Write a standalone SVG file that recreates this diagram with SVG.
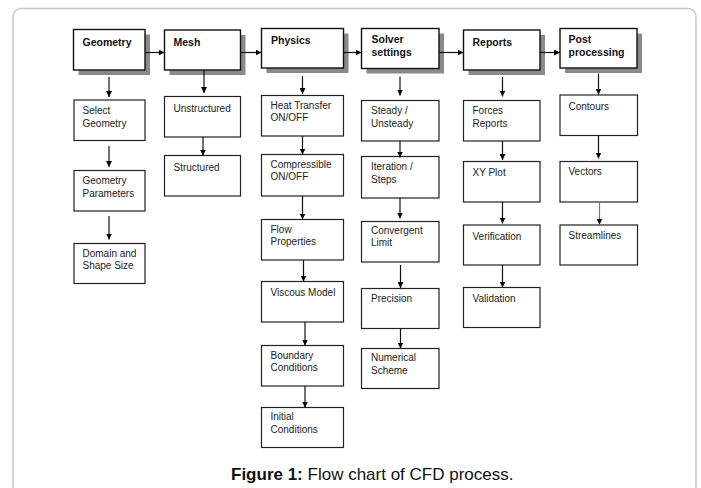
<svg xmlns="http://www.w3.org/2000/svg" width="701" height="488" viewBox="0 0 701 488">
<defs>
<marker id="ah" markerWidth="6" markerHeight="6" refX="6" refY="3" orient="auto" markerUnits="userSpaceOnUse">
<path d="M0,0 L6,3 L0,6 z" fill="#000"/>
</marker>
</defs>
<style>
.frame{fill:#fff;stroke:#c8c8c8;stroke-width:1.5}
.hb{fill:#fff;stroke:#111;stroke-width:1.4}
.sh{fill:#8a8a8a}
.b{fill:#fff;stroke:#222;stroke-width:1.2}
.h{font-family:"Liberation Sans",Arial,sans-serif;font-size:10.5px;font-weight:bold;fill:#111}
.t{font-family:"Liberation Sans",Arial,sans-serif;font-size:10px;fill:#222}
.c line{stroke:#111;stroke-width:1.2;marker-end:url(#ah)}
.cap{font-family:"Liberation Sans",Arial,sans-serif;font-size:17px;fill:#111}
</style>
<rect width="701" height="488" fill="#fff"/>
<rect class="frame" x="13" y="8.5" width="683" height="500" rx="8"/>

<g id="geometry"><rect class="sh" x="78.5" y="34.5" width="71.5" height="40.5"/><rect class="hb" x="73.5" y="29.5" width="71.5" height="40.5"/><text class="h" x="82.5" y="45.5">Geometry</text></g>
<g id="mesh"><rect class="sh" x="169.5" y="35" width="76" height="40"/><rect class="hb" x="164.5" y="30" width="76" height="40"/><text class="h" x="173.5" y="46">Mesh</text></g>
<g id="physics"><rect class="sh" x="266.5" y="33.5" width="82" height="39.5"/><rect class="hb" x="261.5" y="28.5" width="82" height="39.5"/><text class="h" x="271" y="43.5">Physics</text></g>
<g id="solver"><rect class="sh" x="366.5" y="33.5" width="77.5" height="40"/><rect class="hb" x="361.5" y="28.5" width="77.5" height="40"/><text class="h" x="371.5" y="43">Solver</text><text class="h" x="371.5" y="56">settings</text></g>
<g id="reports"><rect class="sh" x="468.5" y="35" width="76.5" height="40"/><rect class="hb" x="463.5" y="30" width="76.5" height="40"/><text class="h" x="472.5" y="46">Reports</text></g>
<g id="post"><rect class="sh" x="565" y="33.5" width="77" height="39.5"/><rect class="hb" x="560" y="28.5" width="77" height="39.5"/><text class="h" x="568.5" y="43">Post</text><text class="h" x="568.5" y="56">processing</text></g>

<g id="select-geometry"><rect class="b" x="74" y="100" width="71" height="40.5"/><text class="t" x="82.5" y="114">Select</text><text class="t" x="82.5" y="126.5">Geometry</text></g>
<g id="geometry-parameters"><rect class="b" x="74" y="170.5" width="71" height="40.5"/><text class="t" x="82.5" y="184">Geometry</text><text class="t" x="82.5" y="196.5">Parameters</text></g>
<g id="domain"><rect class="b" x="74" y="243.5" width="71" height="40"/><text class="t" x="82.5" y="256.5">Domain and</text><text class="t" x="82.5" y="269">Shape Size</text></g>

<g id="unstructured"><rect class="b" x="164.5" y="96.5" width="76" height="40.5"/><text class="t" x="173.5" y="111.5">Unstructured</text></g>
<g id="structured"><rect class="b" x="164.5" y="155.5" width="76" height="40.5"/><text class="t" x="173.5" y="170.5">Structured</text></g>

<g id="heat"><rect class="b" x="261.5" y="95.5" width="82" height="40.5"/><text class="t" x="270.5" y="108.5">Heat Transfer</text><text class="t" x="270.5" y="121">ON/OFF</text></g>
<g id="compressible"><rect class="b" x="261.5" y="154.5" width="82" height="41.5"/><text class="t" x="270.5" y="167.5">Compressible</text><text class="t" x="270.5" y="180">ON/OFF</text></g>
<g id="flow"><rect class="b" x="261.5" y="219.5" width="82" height="40.5"/><text class="t" x="270.5" y="232.5">Flow</text><text class="t" x="270.5" y="245">Properties</text></g>
<g id="viscous"><rect class="b" x="261.5" y="281.5" width="82" height="40.5"/><text class="t" x="270.5" y="295.5">Viscous Model</text></g>
<g id="boundary"><rect class="b" x="261.5" y="345.5" width="82" height="40.5"/><text class="t" x="270.5" y="358.5">Boundary</text><text class="t" x="270.5" y="371">Conditions</text></g>
<g id="initial"><rect class="b" x="261.5" y="407.5" width="82" height="40"/><text class="t" x="270.5" y="420">Initial</text><text class="t" x="270.5" y="432.5">Conditions</text></g>

<g id="steady"><rect class="b" x="361.5" y="100.5" width="77.5" height="40.5"/><text class="t" x="371" y="114">Steady /</text><text class="t" x="371" y="126.5">Unsteady</text></g>
<g id="iteration"><rect class="b" x="361.5" y="156.5" width="77.5" height="41.5"/><text class="t" x="371" y="170">Iteration /</text><text class="t" x="371" y="182.5">Steps</text></g>
<g id="convergent"><rect class="b" x="361.5" y="221.5" width="77.5" height="40.5"/><text class="t" x="371" y="234">Convergent</text><text class="t" x="371" y="246">Limit</text></g>
<g id="precision"><rect class="b" x="361.5" y="288.5" width="77.5" height="40"/><text class="t" x="371" y="301.5">Precision</text></g>
<g id="numerical"><rect class="b" x="361.5" y="348.5" width="77.5" height="40"/><text class="t" x="371" y="361">Numerical</text><text class="t" x="371" y="373.5">Scheme</text></g>

<g id="forces"><rect class="b" x="463.5" y="100.5" width="76.5" height="40.5"/><text class="t" x="472.5" y="114">Forces</text><text class="t" x="472.5" y="126.5">Reports</text></g>
<g id="xyplot"><rect class="b" x="463.5" y="161.5" width="76.5" height="40.5"/><text class="t" x="472.5" y="175.5">XY Plot</text></g>
<g id="verification"><rect class="b" x="463.5" y="225" width="76.5" height="40"/><text class="t" x="472.5" y="239.5">Verification</text></g>
<g id="validation"><rect class="b" x="463.5" y="287.5" width="76.5" height="40"/><text class="t" x="472.5" y="301.5">Validation</text></g>

<g id="contours"><rect class="b" x="560" y="95" width="77.5" height="40.5"/><text class="t" x="568.5" y="109.5">Contours</text></g>
<g id="vectors"><rect class="b" x="560" y="161.5" width="77.5" height="40.5"/><text class="t" x="568.5" y="175">Vectors</text></g>
<g id="streamlines"><rect class="b" x="560" y="225" width="77.5" height="40"/><text class="t" x="568.5" y="238.5">Streamlines</text></g>

<g id="connectors" class="c">
<line x1="145" y1="52.5" x2="164.5" y2="52.5"/>
<line x1="240.5" y1="52.5" x2="261.5" y2="52.5"/>
<line x1="343.5" y1="52.5" x2="361.5" y2="52.5"/>
<line x1="439" y1="52.5" x2="463.5" y2="52.5"/>
<line x1="540" y1="52.5" x2="560" y2="52.5"/>

<line x1="109" y1="77" x2="109" y2="97"/>
<line x1="109" y1="146" x2="109" y2="167"/>
<line x1="109" y1="216" x2="109" y2="239.5"/>

<line x1="204" y1="70" x2="204" y2="93"/>
<line x1="203" y1="137" x2="203" y2="155.5"/>

<line x1="302.5" y1="76" x2="302.5" y2="94"/>
<line x1="302.5" y1="136" x2="302.5" y2="154.5"/>
<line x1="302.5" y1="196" x2="302.5" y2="219.5"/>
<line x1="303.5" y1="260" x2="303.5" y2="281.5"/>
<line x1="305" y1="322" x2="305" y2="345.5"/>
<line x1="305" y1="386" x2="305" y2="407.5"/>

<line x1="400" y1="76.5" x2="400" y2="95.5"/>
<line x1="400" y1="141" x2="400" y2="157.5"/>
<line x1="400" y1="198" x2="400" y2="218.5"/>
<line x1="400.5" y1="265" x2="400.5" y2="288"/>
<line x1="400.5" y1="328.5" x2="400.5" y2="348.5"/>

<line x1="502.5" y1="77" x2="502.5" y2="96.5"/>
<line x1="502.5" y1="141" x2="502.5" y2="160"/>
<line x1="502.5" y1="202" x2="502.5" y2="223.5"/>
<line x1="502.5" y1="265" x2="502.5" y2="287.5"/>

<line x1="598.5" y1="73.5" x2="598.5" y2="94.5"/>
<line x1="598.5" y1="136" x2="598.5" y2="158.5"/>
<line x1="599.5" y1="202" x2="599.5" y2="224.5" style="stroke:#777"/>
</g>

<text class="cap" x="231" y="480"><tspan font-weight="bold">Figure 1:</tspan> Flow chart of CFD process.</text>
</svg>
